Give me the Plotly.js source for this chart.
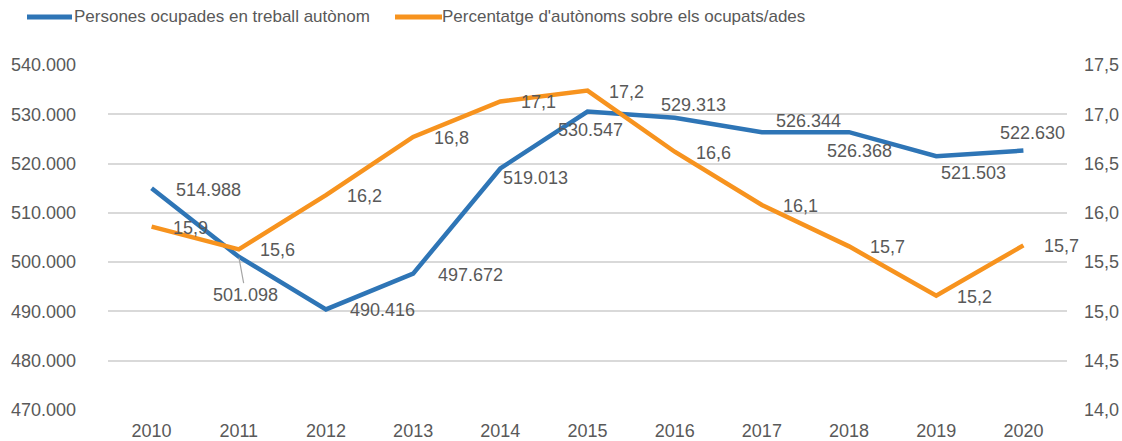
<!DOCTYPE html>
<html>
<head>
<meta charset="utf-8">
<script src="https://cdn.plot.ly/plotly-3.0.1.min.js"></script>
<style>html,body{margin:0;padding:0;background:#fff;}#chart{width:1122px;height:441px;}</style>
</head>
<body>
<div id="chart"></div>
<script>
const years = ['2010','2011','2012','2013','2014','2015','2016','2017','2018','2019','2020'];
const autonomous = [514988, 501098, 490416, 497672, 519013, 530547, 529313, 526344, 526368, 521503, 522630];
const percentage = [15.86, 15.63, 16.18, 16.77, 17.13, 17.24, 16.62, 16.08, 15.66, 15.16, 15.67];
const seriesNames = ['Persones ocupades en treball autònom', "Percentatge d'autònoms sobre els ocupats/ades"];

// label offsets (pixels, right / down) for the blue series labels, centred
const blueLabelDx = [57, 0, 57, 57, 35, 3, 19, 47, 10, 37, 9];
const blueLabelDy = [2, 0, 1, 1, 10, 18, -13, -11, 19, 17, -18];

const BLUE = '#2E75B6';
const ORANGE = '#F7931E';
const TXT = '#595959';
const FONT = 'Liberation Sans, Arial, sans-serif';

// plot area in pixels (used for the hand-built legend only)
const PL = 108, PR = 1067, PT = 65, PB = 410;
const px2x = p => (p - PL) / (PR - PL);
const px2y = p => (PB - p) / (PB - PT);

function fmtThousands(v) {
  return String(v).replace(/\B(?=(\d{3})+(?!\d))/g, '.');
}
function fmtPct(v) {
  return v.toFixed(1).replace('.', ',');
}

const traces = [
  {
    x: years, y: autonomous, name: seriesNames[0], type: 'scatter', mode: 'lines',
    line: {color: BLUE, width: 4.5}, yaxis: 'y', hoverinfo: 'x+y'
  },
  {
    x: years, y: percentage, name: seriesNames[1], type: 'scatter', mode: 'lines',
    line: {color: ORANGE, width: 4.5}, yaxis: 'y2', hoverinfo: 'x+y'
  }
];

const annotations = [];
years.forEach((yr, i) => {
  if (i === 1) {
    annotations.push({
      x: i, y: autonomous[i], xref: 'x', yref: 'y', text: fmtThousands(autonomous[i]),
      showarrow: true, arrowhead: 0, arrowwidth: 1.2, arrowcolor: '#A6A6A6',
      ax: 7, ay: 38, standoff: 1,
      font: {family: FONT, size: 18, color: TXT}
    });
  } else {
    annotations.push({
      x: i, y: autonomous[i], xref: 'x', yref: 'y', text: fmtThousands(autonomous[i]),
      showarrow: false, xanchor: 'center', yanchor: 'middle',
      xshift: blueLabelDx[i], yshift: -blueLabelDy[i],
      font: {family: FONT, size: 18, color: TXT}
    });
  }
  annotations.push({
    x: i, y: percentage[i], xref: 'x', yref: 'y2', text: fmtPct(percentage[i]),
    showarrow: false, xanchor: 'left', yanchor: 'middle',
    xshift: 19, yshift: -1,
    font: {family: FONT, size: 18, color: TXT}
  });
});

// legend (hand-built to match the reference spacing)
const legY = px2y(17);
const legendItems = [
  {x0: 27, x1: 72, tx: 72, color: BLUE, name: seriesNames[0]},
  {x0: 395, x1: 442, tx: 440, color: ORANGE, name: seriesNames[1]}
];
const shapes = [];
legendItems.forEach(it => {
  shapes.push({type: 'line', xref: 'paper', yref: 'paper', x0: px2x(it.x0), x1: px2x(it.x1), y0: legY, y1: legY,
               line: {color: it.color, width: 5}});
  annotations.push({xref: 'paper', yref: 'paper', x: px2x(it.tx), y: legY, xanchor: 'left', yanchor: 'middle',
                    text: it.name, showarrow: false, font: {family: FONT, size: 17, color: TXT}});
});

const layout = {
  width: 1122, height: 441,
  margin: {l: PL, r: 1122 - PR, t: PT, b: 441 - PB, pad: 0, autoexpand: false},
  paper_bgcolor: '#ffffff', plot_bgcolor: '#ffffff',
  separators: ',.',
  font: {family: FONT, size: 18, color: TXT},
  showlegend: false,
  xaxis: {
    type: 'category', range: [-0.5, 10.5], showgrid: false, zeroline: false,
    showline: false, ticks: '', ticklabelstandoff: 8,
    tickfont: {family: FONT, size: 18, color: TXT}, fixedrange: true
  },
  yaxis: {
    range: [470000, 540000], tickvals: [470000, 480000, 490000, 500000, 510000, 520000, 530000, 540000],
    tickformat: ',.0f', showgrid: true, gridcolor: '#D9D9D9', gridwidth: 2,
    zeroline: false, showline: false, ticks: '', ticklabelstandoff: 31,
    tickfont: {family: FONT, size: 18, color: TXT}, fixedrange: true
  },
  yaxis2: {
    range: [14.0, 17.5], dtick: 0.5, tick0: 14, tickformat: '.1f', overlaying: 'y', side: 'right',
    showgrid: false, zeroline: false, showline: false, ticks: '', ticklabelstandoff: 16,
    tickfont: {family: FONT, size: 18, color: TXT}, fixedrange: true
  },
  shapes: shapes,
  annotations: annotations
};

Plotly.newPlot('chart', traces, layout, {displayModeBar: false, staticPlot: true});
</script>
</body>
</html>
